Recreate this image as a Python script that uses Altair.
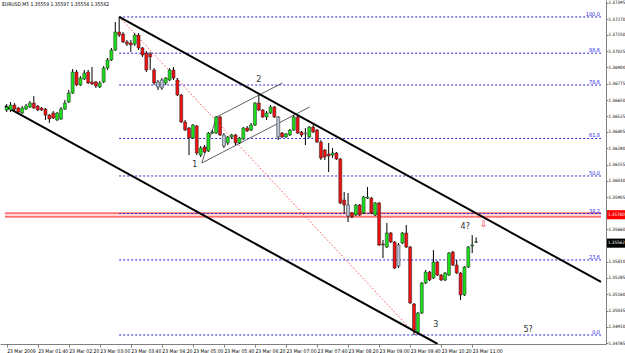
import altair as alt
import pandas as pd

symbol = "EURUSD,M5"

opens = [1.36574, 1.36574, 1.36612, 1.36589, 1.36551, 1.36581, 1.36597, 1.36627, 1.36604, 1.36589,
         1.36581, 1.36535, 1.36551, 1.36497, 1.36505, 1.36581, 1.36635, 1.36704, 1.36865, 1.36766,
         1.36812, 1.36865, 1.36789, 1.36789, 1.36750, 1.36789, 1.36896, 1.36958, 1.37034, 1.37172,
         1.37157, 1.37096, 1.37088, 1.37080, 1.37149, 1.37050, 1.37011, 1.37004, 1.36881, 1.36789,
         1.36743, 1.36781, 1.36804, 1.36881, 1.36804, 1.36689, 1.36482, 1.36436, 1.36359, 1.36451,
         1.36228, 1.36290, 1.36259, 1.36397, 1.36397, 1.36520, 1.36382, 1.36321, 1.36367, 1.36382,
         1.36321, 1.36351, 1.36436, 1.36420, 1.36459, 1.36627, 1.36574, 1.36520, 1.36551, 1.36597,
         1.36520, 1.36397, 1.36367, 1.36382, 1.36420, 1.36520, 1.36405, 1.36390, 1.36367, 1.36443,
         1.36420, 1.36328, 1.36267, 1.36236, 1.36228, 1.36244, 1.36198, 1.35883, 1.35845, 1.35783,
         1.35768, 1.35845, 1.35783, 1.35898, 1.35898, 1.35768, 1.35860, 1.35545, 1.35522, 1.35630,
         1.35561, 1.35376, 1.35553, 1.35630, 1.35522, 1.35085, 1.34870, 1.35016, 1.35246, 1.35330,
         1.35284, 1.35407, 1.35307, 1.35269, 1.35307, 1.35484, 1.35384, 1.35323, 1.35154, 1.35369,
         1.35530, 1.35559]
highs = [1.36620, 1.36635, 1.36627, 1.36597, 1.36604, 1.36620, 1.36643, 1.36681, 1.36612, 1.36597,
         1.36589, 1.36543, 1.36566, 1.36558, 1.36597, 1.36651, 1.36727, 1.36888, 1.36881, 1.36835,
         1.36881, 1.36881, 1.36904, 1.36796, 1.36796, 1.36911, 1.36973, 1.37050, 1.37249, 1.37288,
         1.37172, 1.37111, 1.37111, 1.37165, 1.37165, 1.37057, 1.37027, 1.37019, 1.36896, 1.36804,
         1.36819, 1.36827, 1.36896, 1.36904, 1.36819, 1.36697, 1.36497, 1.36443, 1.36466, 1.36459,
         1.36297, 1.36305, 1.36405, 1.36420, 1.36528, 1.36528, 1.36397, 1.36374, 1.36390, 1.36390,
         1.36367, 1.36443, 1.36451, 1.36474, 1.36635, 1.36689, 1.36581, 1.36566, 1.36612, 1.36604,
         1.36528, 1.36405, 1.36397, 1.36428, 1.36535, 1.36528, 1.36413, 1.36436, 1.36451, 1.36459,
         1.36428, 1.36344, 1.36274, 1.36321, 1.36282, 1.36251, 1.36205, 1.35944, 1.35937, 1.35791,
         1.35852, 1.35852, 1.35914, 1.35983, 1.35906, 1.35868, 1.35868, 1.35576, 1.35707, 1.35637,
         1.35568, 1.35553, 1.35637, 1.35691, 1.35530, 1.35093, 1.35023, 1.35254, 1.35346, 1.35338,
         1.35499, 1.35415, 1.35315, 1.35330, 1.35484, 1.35492, 1.35423, 1.35330, 1.35376, 1.35530,
         1.35614, 1.35597]
lows = [1.36558, 1.36558, 1.36566, 1.36551, 1.36543, 1.36574, 1.36589, 1.36581, 1.36566, 1.36566,
        1.36497, 1.36474, 1.36505, 1.36489, 1.36497, 1.36574, 1.36627, 1.36697, 1.36758, 1.36758,
        1.36804, 1.36773, 1.36766, 1.36743, 1.36743, 1.36781, 1.36881, 1.36950, 1.37027, 1.37134,
        1.37088, 1.37065, 1.37019, 1.37065, 1.37034, 1.36981, 1.36865, 1.36881, 1.36766, 1.36727,
        1.36727, 1.36766, 1.36796, 1.36804, 1.36681, 1.36474, 1.36413, 1.36228, 1.36351, 1.36228,
        1.36213, 1.36244, 1.36251, 1.36390, 1.36390, 1.36374, 1.36282, 1.36305, 1.36351, 1.36305,
        1.36313, 1.36344, 1.36405, 1.36413, 1.36451, 1.36566, 1.36512, 1.36497, 1.36543, 1.36512,
        1.36344, 1.36359, 1.36359, 1.36374, 1.36413, 1.36390, 1.36367, 1.36305, 1.36359, 1.36397,
        1.36321, 1.36190, 1.36190, 1.36098, 1.36205, 1.36190, 1.35852, 1.35783, 1.35714, 1.35745,
        1.35760, 1.35760, 1.35776, 1.35891, 1.35776, 1.35760, 1.35530, 1.35438, 1.35515, 1.35553,
        1.35353, 1.35361, 1.35545, 1.35515, 1.35085, 1.34847, 1.34847, 1.35008, 1.35238, 1.35261,
        1.35277, 1.35300, 1.35261, 1.35261, 1.35300, 1.35376, 1.35315, 1.35116, 1.35146, 1.35361,
        1.35476, 1.35554]
closes = [1.36597, 1.36612, 1.36581, 1.36558, 1.36589, 1.36604, 1.36627, 1.36589, 1.36574, 1.36574,
          1.36535, 1.36505, 1.36512, 1.36551, 1.36581, 1.36627, 1.36704, 1.36865, 1.36766, 1.36819,
          1.36858, 1.36781, 1.36773, 1.36758, 1.36781, 1.36896, 1.36958, 1.37034, 1.37172, 1.37149,
          1.37096, 1.37080, 1.37073, 1.37149, 1.37050, 1.36996, 1.36881, 1.36981, 1.36781, 1.36750,
          1.36804, 1.36819, 1.36881, 1.36819, 1.36689, 1.36482, 1.36420, 1.36359, 1.36459, 1.36244,
          1.36282, 1.36251, 1.36397, 1.36405, 1.36520, 1.36382, 1.36297, 1.36367, 1.36382, 1.36321,
          1.36359, 1.36436, 1.36413, 1.36459, 1.36627, 1.36574, 1.36520, 1.36551, 1.36597, 1.36520,
          1.36367, 1.36367, 1.36390, 1.36420, 1.36520, 1.36397, 1.36382, 1.36397, 1.36443, 1.36405,
          1.36328, 1.36205, 1.36213, 1.36221, 1.36244, 1.36198, 1.35860, 1.35845, 1.35760, 1.35753,
          1.35845, 1.35768, 1.35906, 1.35906, 1.35783, 1.35860, 1.35538, 1.35538, 1.35630, 1.35561,
          1.35361, 1.35538, 1.35630, 1.35522, 1.35093, 1.34885, 1.35016, 1.35246, 1.35330, 1.35269,
          1.35407, 1.35307, 1.35269, 1.35323, 1.35476, 1.35384, 1.35323, 1.35154, 1.35369, 1.35522,
          1.35538, 1.35562]
grey_bars = [39, 40, 56, 70, 77, 88, 101]

time_ticks = [0, 8, 16, 24, 32, 40, 48, 56, 64, 72, 80, 88, 96, 104, 112, 120]
time_labels = ["23 Mar 2009", "23 Mar 01:40", "23 Mar 02:20", "23 Mar 03:00", "23 Mar 03:40",
               "23 Mar 04:20", "23 Mar 05:00", "23 Mar 05:40", "23 Mar 06:20", "23 Mar 07:00",
               "23 Mar 07:40", "23 Mar 08:20", "23 Mar 09:00", "23 Mar 09:40", "23 Mar 10:20",
               "23 Mar 11:00"]
price_ticks = [1.37395, 1.37270, 1.37150, 1.37025, 1.36900, 1.36775, 1.36650, 1.36525, 1.36405,
               1.36280, 1.36155, 1.36030, 1.35905, 1.35780, 1.35660, 1.35535, 1.35410, 1.35285,
               1.35160, 1.35035, 1.34910, 1.34785]

fib_levels = [0.0, 23.6, 38.2, 50.0, 61.8, 78.6, 88.6, 100.0]
fib_high = 1.37288
fib_low = 1.34847
fib_start_bar = 29
fib_low_bar = 105.5
fib_end_bar = 153.2

# channel lines (bar index, price)
channel_x0 = [29, -0.43]
channel_y0 = [1.37288, 1.36604]
channel_x1 = [153.2, 111.1]
channel_y1 = [1.35254, 1.34778]

# small wave-2 parallelogram
thin_x0 = [50.3, 54.1, 50.3]
thin_y0 = [1.36167, 1.36520, 1.36167]
thin_x1 = [78.1, 71.05, 54.1]
thin_y1 = [1.36597, 1.36781, 1.36520]

wave_text = ["1", "2", "3", "4?", "5?"]
wave_x = [48.5, 65.0, 110.6, 118.2, 134.4]
wave_y = [1.36152, 1.36804, 1.34924, 1.35676, 1.34885]

arrow_x = [123.0]
arrow_y = [1.35699]

band_low = 1.35753
band_high = 1.35783
red_label = "1.35780"

x_domain = [-0.43, 153.2]
y_domain = [1.34778, 1.37418]

# ---------------------------------------------------------------
n = len(opens)
kinds = []
for k in range(n):
    if k in grey_bars:
        kinds.append("grey")
    elif closes[k] >= opens[k]:
        kinds.append("up")
    else:
        kinds.append("down")
candles = pd.DataFrame({"i": list(range(n)), "o": opens, "h": highs, "l": lows,
                        "c": closes, "kind": kinds})

xs = alt.Scale(domain=x_domain, nice=False, zero=False)
ys = alt.Scale(domain=y_domain, nice=False, zero=False)

small_font = "DejaVu Sans Condensed, Liberation Sans Narrow, Liberation Sans, sans-serif"
label_array = "[" + ",".join("'" + t + "'" for t in time_labels) + "]"
x_axis = alt.Axis(values=time_ticks, labelExpr=label_array + "[round(datum.value/8)]",
                  title=None, grid=False, labelAlign="left", labelFontSize=5,
                  labelFont=small_font, labelColor="#000000", labelPadding=1, tickSize=3,
                  tickColor="#808080", domainColor="#808080", labelOverlap=False,
                  labelFlush=False, zindex=0)
y_axis = alt.Axis(values=price_ticks, format=".5f", orient="right", title=None, grid=False,
                  labelFontSize=4.5, labelFont=small_font, labelColor="#000000",
                  labelPadding=0, tickSize=2, tickColor="#808080", domainColor="#808080",
                  labelOverlap=False, labelFlush=False, zindex=0)

X = lambda f: alt.X(f, type="quantitative", scale=xs, axis=x_axis)
Y = lambda f: alt.Y(f, type="quantitative", scale=ys, axis=y_axis)

wicks = alt.Chart(candles).mark_rule(color="#000000", strokeWidth=1).encode(
    x=X("i"), y=Y("l"), y2="h:Q")

bodies = alt.Chart(candles).mark_bar(size=3, stroke="#202020", strokeWidth=0.5).encode(
    x=X("i"), y=Y("o"), y2="c:Q",
    color=alt.Color("kind:N", legend=None,
                    scale=alt.Scale(domain=["up", "down", "grey"],
                                    range=["#19e019", "#f01010", "#b8c4d4"])))

fib = pd.DataFrame({"lvl": fib_levels})
fib["p"] = fib_low + (fib_high - fib_low) * fib["lvl"] / 100.0
fib["txt"] = [f"{v:.1f}" for v in fib_levels]
fib["x0"] = fib_start_bar
fib["x1"] = fib_end_bar

fib_lines = alt.Chart(fib).mark_rule(color="#2626d9", strokeWidth=1, strokeDash=[2, 2]).encode(
    x=X("x0"), x2="x1:Q", y=Y("p"))
fib_labels = alt.Chart(fib).mark_text(align="right", baseline="bottom", fontSize=5.5,
                                      font=small_font, color="#2626d9", dx=-1).encode(
    x=X("x1"), y=Y("p"), text="txt:N")

fib_diag = alt.Chart(pd.DataFrame({"x0": [fib_start_bar], "y0": [fib_high],
                                   "x1": [fib_low_bar], "y1": [fib_low]})).mark_rule(
    color="#ff5050", strokeWidth=1, strokeDash=[1.5, 2]).encode(
    x=X("x0"), y=Y("y0"), x2="x1:Q", y2="y1:Q")

band = pd.DataFrame({"x0": [x_domain[0]], "x1": [x_domain[1]],
                     "lo": [band_low], "hi": [band_high]})
band_fill = alt.Chart(band).mark_rect(color="#ffd6d6").encode(
    x=X("x0"), x2="x1:Q", y=Y("lo"), y2="hi:Q")
band_lines = alt.Chart(pd.DataFrame({"p": [band_low, band_high],
                                     "x0": [x_domain[0]] * 2, "x1": [x_domain[1]] * 2})).mark_rule(
    color="#ff2020", strokeWidth=1).encode(x=X("x0"), x2="x1:Q", y=Y("p"))

channel = alt.Chart(pd.DataFrame({"x0": channel_x0, "y0": channel_y0,
                                  "x1": channel_x1, "y1": channel_y1})).mark_rule(
    color="#000000", strokeWidth=2, clip=True).encode(
    x=X("x0"), y=Y("y0"), x2="x1:Q", y2="y1:Q")

thin = alt.Chart(pd.DataFrame({"x0": thin_x0, "y0": thin_y0,
                               "x1": thin_x1, "y1": thin_y1})).mark_rule(
    color="#3a3a3a", strokeWidth=0.8).encode(
    x=X("x0"), y=Y("y0"), x2="x1:Q", y2="y1:Q")

waves = alt.Chart(pd.DataFrame({"x": wave_x, "y": wave_y, "t": wave_text})).mark_text(
    fontSize=8, font="DejaVu Sans", color="#333333").encode(x=X("x"), y=Y("y"), text="t:N")

arrow = alt.Chart(pd.DataFrame({"x": arrow_x, "y": arrow_y, "t": ["⇩"]})).mark_text(
    fontSize=9, font="DejaVu Sans", color="#ff2020").encode(x=X("x"), y=Y("y"), text="t:N")

last_close = closes[-1]
boxes = pd.DataFrame({"p": [float(red_label), last_close],
                      "t": [red_label, f"{last_close:.5f}"],
                      "fillc": ["#ff0000", "#000000"]})
boxes["lo"] = boxes["p"] - 0.00045
boxes["hi"] = boxes["p"] + 0.00025
boxes["mid"] = boxes["p"] - 0.0001
box_rects = alt.Chart(boxes).mark_rect(clip=False).encode(
    x=alt.value(607), x2=alt.value(625), y=Y("lo"), y2="hi:Q",
    color=alt.Color("fillc:N", scale=None, legend=None))
box_text = alt.Chart(boxes).mark_text(align="left", baseline="middle", fontSize=4.5,
                                      font=small_font, color="#ffffff").encode(
    x=alt.value(608), y=Y("mid"), text="t:N")

header_txt = symbol + "  " + "  ".join(f"{v:.5f}" for v in [opens[-1], highs[-1], lows[-1], closes[-1]])
header = alt.Chart(pd.DataFrame({"t": [header_txt]})).mark_text(
    align="left", baseline="middle", fontSize=5, font=small_font, color="#000000").encode(
    x=alt.value(2), y=alt.value(4), text="t:N")

chart = alt.layer(
    band_fill, band_lines, fib_lines, fib_labels, fib_diag, thin, channel,
    wicks, bodies, waves, arrow, box_rects, box_text, header
).resolve_scale(color="independent").properties(
    width=606, height=344, autosize="none",
    padding={"left": 0, "top": 0, "right": 19, "bottom": 9},
    background="#ffffff"
).configure_view(stroke=None)

chart.save("out.html", embed_options={"renderer": "svg", "actions": False})
